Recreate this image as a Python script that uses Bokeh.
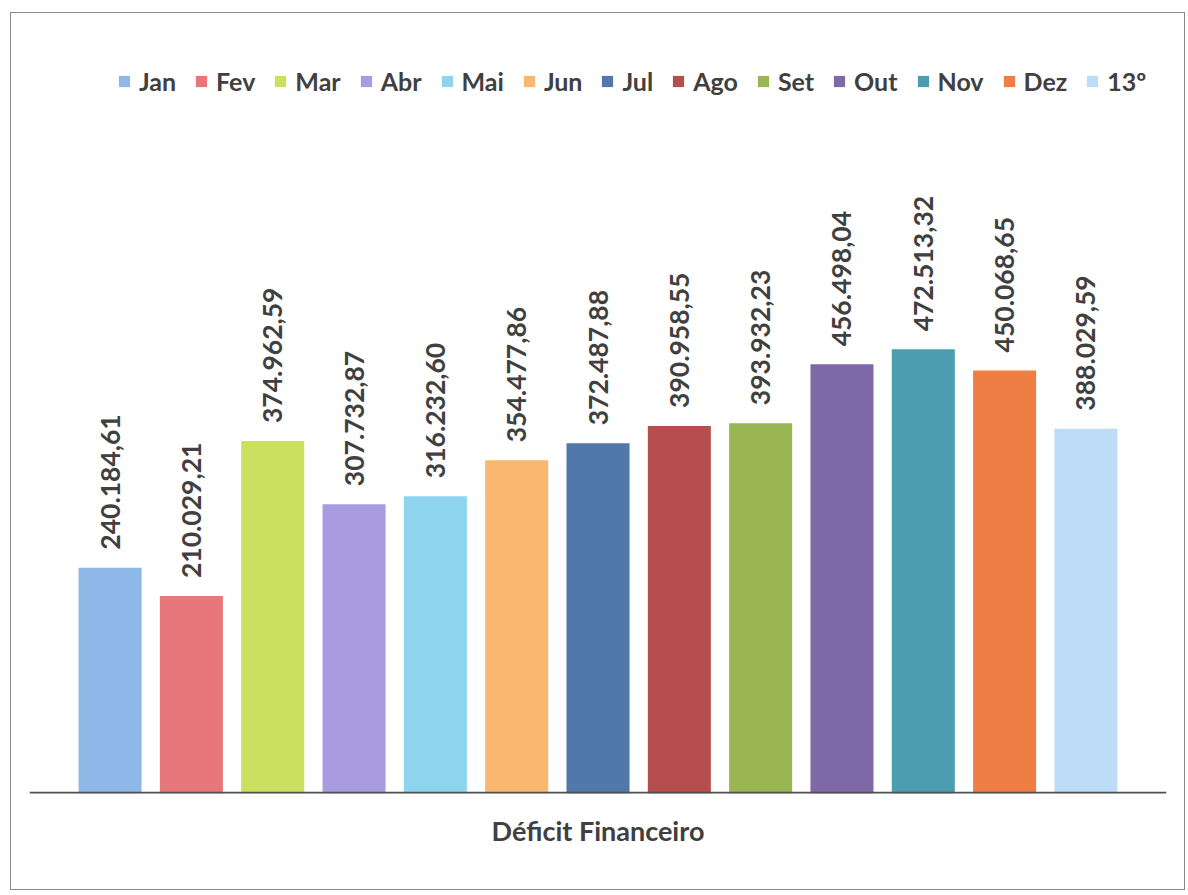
import math
from bokeh.plotting import figure
from bokeh.models import ColumnDataSource, FactorRange, Legend, LegendItem, Span, Title
from bokeh.core.properties import value
from bokeh.embed import file_html
from bokeh.resources import INLINE

months = ["Jan", "Fev", "Mar", "Abr", "Mai", "Jun", "Jul", "Ago", "Set", "Out", "Nov", "Dez", "13º"]
values = [240184.61, 210029.21, 374962.59, 307732.87, 316232.60, 354477.86, 372487.88,
          390958.55, 393932.23, 456498.04, 472513.32, 450068.65, 388029.59]
colors = ["#8DB8E8", "#E8777C", "#CCE060", "#A99BE0", "#8ED4EE", "#FAB86E", "#5078A8",
          "#B64E4E", "#9AB652", "#7E68A8", "#4C9DB0", "#EF7E44", "#BCDCF8"]
category = "Déficit Financeiro"


def br(v):
    s = f"{v:,.2f}"
    return s.replace(",", "X").replace(".", ",").replace("X", ".")


labels = [br(v) for v in values]

src = ColumnDataSource(dict(month=months, value=values, color=colors, label=labels))

FONT = "Lato"
TXT = "#404040"

p = figure(
    width=1175, height=878,
    x_range=FactorRange(*months, range_padding=0.0755),
    y_range=(0, 810600),
    output_backend="svg", toolbar_location=None,
    min_border_left=18, min_border_right=20, min_border_top=18, min_border_bottom=98,
)
p.margin = (12, 0, 0, 10)
p.styles = {"border": "1px solid #8a8a8a", "box-sizing": "border-box"}
p.outline_line_color = None
p.xgrid.grid_line_color = None
p.ygrid.grid_line_color = None
p.yaxis.visible = False
p.xaxis.visible = False

r = p.vbar(x="month", top="value", width=0.775, color="color", source=src, line_color=None)

p.text(x="month", y="value", text="label", source=src, angle=math.pi / 2,
       text_align="left", text_baseline="middle", y_offset=-18,
       text_font=value(FONT), text_font_style="bold", text_font_size="26.5px",
       text_color=TXT)

p.add_layout(Span(location=0, dimension="width", line_color="#505050", line_width=3.5))

t = Title(text=category, align="center", text_font=FONT, text_font_style="bold",
          text_font_size="27px", text_color=TXT, standoff=37)
p.add_layout(t, "below")

items = [LegendItem(label=m, renderers=[r], index=i) for i, m in enumerate(months)]
leg = Legend(items=items, orientation="horizontal", location=(88, 697))
leg.label_text_font = FONT
leg.label_text_font_style = "bold"
leg.label_text_font_size = "25px"
leg.label_text_color = TXT
leg.glyph_width = 14
leg.glyph_height = 14
leg.label_standoff = 8
leg.spacing = 18
leg.padding = 0
leg.border_line_color = None
leg.background_fill_alpha = 0
p.add_layout(leg)

open("out.html", "w").write(file_html(p, INLINE))
